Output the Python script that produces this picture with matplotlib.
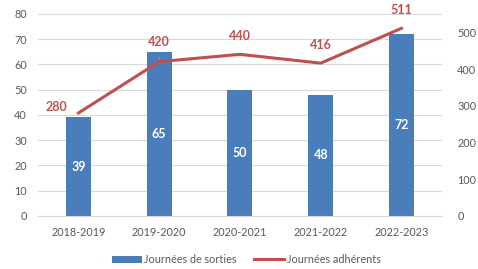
import matplotlib
matplotlib.use("Agg")
import matplotlib.pyplot as plt
import numpy as np

plt.rcParams['font.family'] = ['Lato', 'DejaVu Sans']

saisons = ["2018-2019", "2019-2020", "2020-2021", "2021-2022", "2022-2023"]
sorties = [39, 65, 50, 48, 72]
adherents = [280, 420, 440, 416, 511]

bleu = "#4a7ebb"
rouge = "#c0504d"
gris = "#595959"

fig = plt.figure(figsize=(4.78, 2.69), dpi=100)
ax = fig.add_axes([0.0795, 0.198, 0.845, 0.75])
ax2 = ax.twinx()

x = np.arange(len(saisons))
bars = ax.bar(x, sorties, width=0.31, color=bleu, label="Journées de sorties", zorder=2)
ax.bar_label(bars, label_type="center", color="white", fontsize=9, fontweight="bold")

ax2.plot(x, adherents, color=rouge, lw=2.2, label="Journées adhérents", zorder=3)
# decalage des etiquettes en pixels, avec trait de rappel pour les deux premieres
offsets = [(-22, 6), (0, 20), (0, 18), (0, 18), (0, 18)]
rappel = [True, True, False, False, False]
for xi, v, off, r in zip(x, adherents, offsets, rappel):
    arrow = dict(arrowstyle="-", color="#a6a6a6", lw=0.6, shrinkA=5, shrinkB=2) if r else None
    ax2.annotate(str(v), (xi, v), xytext=off, textcoords="offset pixels",
                 ha="center", va="center", color=rouge, fontsize=9, fontweight="bold",
                 arrowprops=arrow, zorder=4)

ax.set_xlim(-0.5, len(saisons) - 0.5)
ax.set_ylim(0, 80)
ax.set_yticks(range(0, 81, 10))
ax2.set_ylim(0, 550)
ax2.set_yticks(range(0, 501, 100))
ax.set_xticks(x)
ax.set_xticklabels(saisons)

ax.grid(axis="y", color="#d9d9d9", lw=0.8, zorder=0)
ax.set_axisbelow(True)
for a in (ax, ax2):
    for s in a.spines.values():
        s.set_visible(False)
    a.tick_params(length=0, colors=gris, labelsize=7.8)
ax.spines["bottom"].set_visible(True)
ax.spines["bottom"].set_color("#d9d9d9")
ax.tick_params(axis="y", pad=8)
ax2.tick_params(axis="y", pad=11)
ax.tick_params(axis="x", pad=8)

h1, l1 = ax.get_legend_handles_labels()
h2, l2 = ax2.get_legend_handles_labels()
fig.legend(h1 + h2, l1 + l2, loc="center", bbox_to_anchor=(0.515, 0.035), ncol=2,
           frameon=False, fontsize=7.8, labelcolor=gris, handlelength=2.8,
           handletextpad=0.2, columnspacing=1.6)

fig.savefig("out.png", dpi=100)
